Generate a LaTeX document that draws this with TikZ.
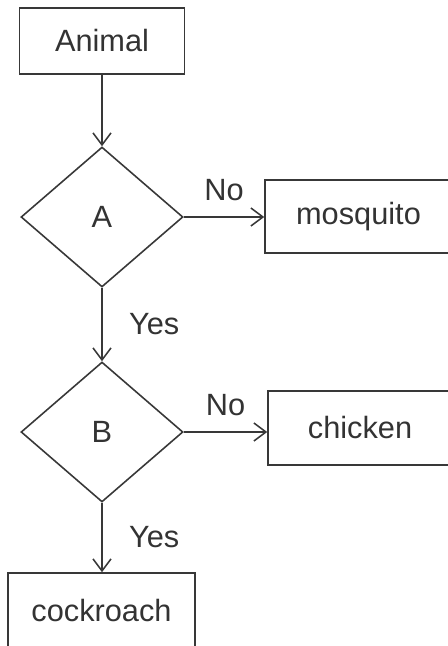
\documentclass[tikz,border=0pt]{standalone}
\usepackage{fontspec}
\setmainfont{Liberation Sans}
\usepackage{tikz}
\usetikzlibrary{shapes.geometric,arrows.meta}
\begin{document}
\begin{tikzpicture}[x=0.02cm,y=-0.02cm,
    every node/.style={font=\fontsize{17.5}{21}\selectfont,text=black!80},
    ink/.style={draw=black!78,line width=0.9pt},
    box/.style={ink,rectangle,inner sep=0pt},
    test/.style={ink,diamond,minimum width=3.24cm,minimum height=2.8cm,inner sep=0pt},
    link/.style={ink,-{Straight Barb[length=2.4mm,width=3.6mm]}},
    tag/.style={inner sep=1pt}]
  \useasboundingbox (0,0) rectangle (448,646);
  \node[box,minimum width=3.3cm,minimum height=1.32cm] (animal) at (102,41) {Animal};
  \node[test] (A) at (102,217) {A};
  \node[test] (B) at (102,432) {B};
  \node[box,minimum width=3.74cm,minimum height=1.46cm] (mosquito) at (358.5,216.5) {mosquito};
  \node[box,minimum width=3.68cm,minimum height=1.48cm] (chicken) at (360,428) {chicken};
  \node[box,minimum width=3.74cm,minimum height=1.5cm] (cockroach) at (101.5,610.5) {cockroach};
  \draw[link] (animal.south) -- (A.north);
  \draw[link] (A.east) -- node[tag,above=8pt] (noA) {No} (A.east -| mosquito.west);
  \draw[link] (A.south) -- node[tag,right=14pt] (yesA) {Yes} (B.north);
  \draw[link] (B.east) -- node[tag,above=8pt] (noB) {No} (B.east -| chicken.west);
  \draw[link] (B.south) -- node[tag,right=14pt] (yesB) {Yes} (B.south |- cockroach.north);
\end{tikzpicture}
\end{document}
